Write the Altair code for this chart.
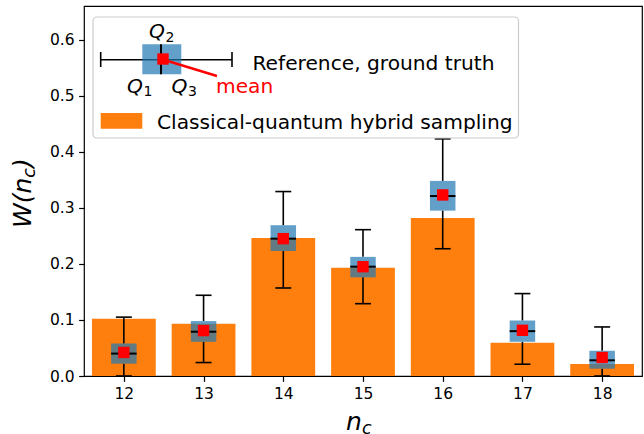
import altair as alt
import pandas as pd

# ---------------- data ----------------
n_c = [12, 13, 14, 15, 16, 17, 18]
hybrid = [0.102, 0.093, 0.246, 0.193, 0.282, 0.0595, 0.0214]
w_min = [0.0, 0.024, 0.157, 0.129, 0.227, 0.021, 0.0]
q1 = [0.022, 0.061, 0.223, 0.176, 0.295, 0.061, 0.013]
q2 = [0.040, 0.079, 0.245, 0.195, 0.321, 0.080, 0.028]
q3 = [0.058, 0.098, 0.269, 0.2125, 0.348, 0.099, 0.045]
w_max = [0.105, 0.144, 0.329, 0.261, 0.423, 0.147, 0.0875]
mean = [0.042, 0.081, 0.245, 0.195, 0.323, 0.0815, 0.033]
x_ticks = [12, 13, 14, 15, 16, 17, 18]
y_ticks = [0.0, 0.1, 0.2, 0.3, 0.4, 0.5, 0.6]

FONT = "DejaVu Sans"
ORANGE = "#ff7f0e"
BLUE = "#1f77b4"
LEG = 20.2   # legend font size
SUB = 14.0   # subscript font size

df = pd.DataFrame(dict(n=n_c, hybrid=hybrid, wmin=w_min, q1=q1, med=q2,
                       q3=q3, wmax=w_max, mean=mean))

xs = alt.Scale(domain=[11.5, 18.5], nice=False, zero=False)
ys = alt.Scale(domain=[0, 0.66], nice=False, zero=False)

common_axis = dict(title=None, grid=False, domain=False, ticks=True,
                   tickSize=5.4, tickWidth=1.2, tickColor="black",
                   labelFont=FONT, labelFontSize=15.5, labelColor="black")
xaxis = alt.Axis(values=x_ticks, format="d", labelPadding=5, **common_axis)
yaxis = alt.Axis(values=y_ticks, format=".1f", labelPadding=4.5, **common_axis)

base = alt.Chart(df).transform_calculate(
    bar_l="datum.n - 0.4", bar_r="datum.n + 0.4",
    box_l="datum.n - 0.16", box_r="datum.n + 0.16",
    cap_l="datum.n - 0.1", cap_r="datum.n + 0.1",
)

def X(f):
    return alt.X(f, scale=xs, axis=xaxis)

def Y(f):
    return alt.Y(f, scale=ys, axis=yaxis)

bars = base.mark_rect(color=ORANGE).encode(
    x=X("bar_l:Q"), x2="bar_r:Q", y=Y("hybrid:Q"), y2=alt.datum(0))
wh_up = base.mark_rule(color="black", strokeWidth=1.6).encode(
    x=X("n:Q"), y=Y("q3:Q"), y2="wmax:Q")
wh_lo = base.mark_rule(color="black", strokeWidth=1.6).encode(
    x=X("n:Q"), y=Y("wmin:Q"), y2="q1:Q")
cap_up = base.mark_rule(color="black", strokeWidth=1.6).encode(
    x=X("cap_l:Q"), x2="cap_r:Q", y=Y("wmax:Q"))
cap_lo = base.mark_rule(color="black", strokeWidth=1.6).encode(
    x=X("cap_l:Q"), x2="cap_r:Q", y=Y("wmin:Q"))
box = base.mark_rect(color=BLUE, opacity=0.7).encode(
    x=X("box_l:Q"), x2="box_r:Q", y=Y("q1:Q"), y2="q3:Q")
med = base.mark_rule(color="black", strokeWidth=2).encode(
    x=X("box_l:Q"), x2="box_r:Q", y=Y("med:Q"))
mean_pt = base.mark_square(color="red", size=130, opacity=1, strokeWidth=0).encode(
    x=X("n:Q"), y=Y("mean:Q"))

# ---------------- legend and titles (annotations) ----------------
def one():
    return alt.Chart(pd.DataFrame({"k": [0]}))

def txt(s, x, y, size=LEG, color="black", italic=False, angle=0):
    return one().mark_text(
        text=s, align="left", baseline="alphabetic", font=FONT,
        fontSize=size, color=color, angle=angle,
        fontStyle="italic" if italic else "normal",
    ).encode(x=alt.value(x), y=alt.value(y))

def hrule(x1, x2, y, color="black", w=1.6):
    return one().mark_rule(color=color, strokeWidth=w).encode(
        x=alt.value(x1), x2=alt.value(x2), y=alt.value(y))

def vrule(x, y1, y2, color="black", w=1.6):
    return one().mark_rule(color=color, strokeWidth=w).encode(
        x=alt.value(x), y=alt.value(y1), y2=alt.value(y2))

leg_frame = one().mark_rect(
    fill="white", fillOpacity=0.8, stroke="#cccccc", strokeWidth=1.2,
    cornerRadius=4,
).encode(x=alt.value(9), x2=alt.value(434.5), y=alt.value(11), y2=alt.value(132))

leg_wh = hrule(16.7, 148, 53.7)
leg_cap1 = vrule(16.7, 46, 61)
leg_cap2 = vrule(148, 46, 61)
leg_box = one().mark_rect(color=BLUE, opacity=0.7).encode(
    x=alt.value(58.3), x2=alt.value(97.3), y=alt.value(38.3), y2=alt.value(68.3))
leg_med = vrule(77, 38.3, 68.3, w=2)
leg_line = one().mark_rule(color="red", strokeWidth=2.4).encode(
    x=alt.value(82), y=alt.value(54.5), x2=alt.value(133), y2=alt.value(70))
leg_mean = one().mark_square(color="red", size=130, opacity=1, strokeWidth=0).encode(
    x=alt.value(79), y=alt.value(53))
leg_mean_txt = txt("mean", 132, 87, color="red")
q2_t = [txt("Q", 65, 32, italic=True), txt("2", 81.5, 35.5, size=SUB)]
q1_t = [txt("Q", 43, 86.5, italic=True), txt("1", 59.5, 90, size=SUB)]
q3_t = [txt("Q", 87.5, 86.5, italic=True), txt("3", 104, 90, size=SUB)]
leg_ref = txt("Reference, ground truth", 168.5, 63.5)
leg_patch = one().mark_rect(color=ORANGE).encode(
    x=alt.value(16.7), x2=alt.value(58.3), y=alt.value(107), y2=alt.value(122.7))
leg_hyb = txt("Classical-quantum hybrid sampling", 73, 122.5)

# y title W(n_c), rotated
yt = [
    txt("W(n", -53, 222, size=25, italic=True, angle=270),
    txt("c", -49, 171.7, size=17.5, italic=True, angle=270),
    txt(")", -53, 162, size=25, italic=True, angle=270),
]
# x title n_c (cut by the bottom edge, as in the reference)
xt = [
    txt("n", 262, 424, size=25, italic=True),
    txt("c", 278, 428, size=17.5, italic=True),
]

chart = alt.layer(
    bars, wh_up, wh_lo, cap_up, cap_lo, box, med, mean_pt,
    leg_frame, leg_wh, leg_cap1, leg_cap2, leg_box, leg_med, leg_line, leg_mean,
    leg_mean_txt, *q2_t, *q1_t, *q3_t, leg_ref, leg_patch, leg_hyb,
    *yt, *xt,
).properties(
    width=558, height=370,
    padding={"left": 84, "top": 6, "right": 2, "bottom": 58},
    autosize=alt.AutoSizeParams(type="none"),
    background="white",
).configure_view(stroke="black", strokeWidth=1.2)

chart.save("out.html", embed_options={"renderer": "svg", "actions": False})
